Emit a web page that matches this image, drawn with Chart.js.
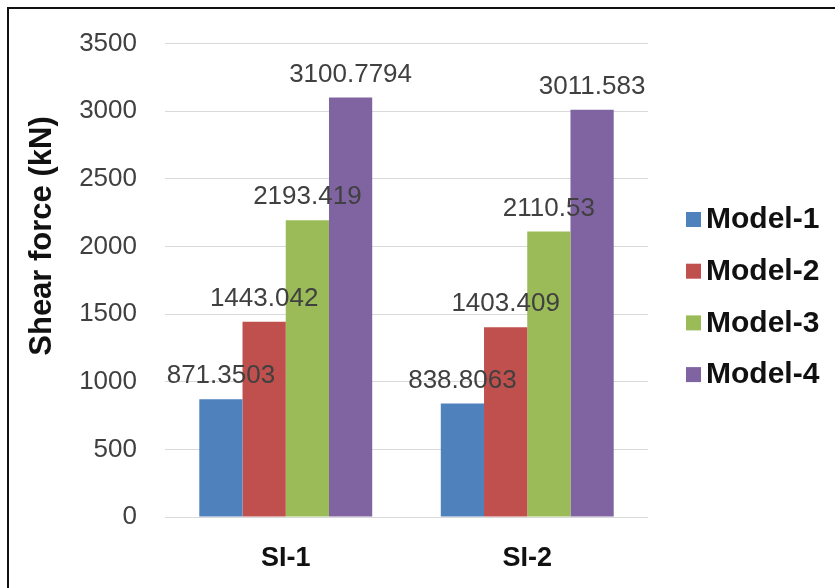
<!DOCTYPE html>
<html>
<head>
<meta charset="utf-8">
<script src="https://cdn.jsdelivr.net/npm/chart.js@4/dist/chart.umd.min.js"></script>
<style>
    html, body { margin: 0; padding: 0; background: #fff; }
    #wrap { position: relative; width: 835px; height: 588px; }
    #frame { position: absolute; left: 7px; top: 7px; right: 0; bottom: 0;
             border-top: 2px solid #111; border-left: 2px solid #111; pointer-events: none; }
    canvas { position: absolute; left: 0; top: 0; }
</style>
</head>
<body>
<div id="wrap">
    <canvas id="grafico" width="835" height="588"></canvas>
    <div id="frame"></div>
</div>
<script>
const categorias = ['SI-1', 'SI-2'];
const modelos = ['Model-1', 'Model-2', 'Model-3', 'Model-4'];
const model1 = [871.3503, 838.8063];
const model2 = [1443.042, 1403.409];
const model3 = [2193.419, 2110.53];
const model4 = [3100.7794, 3011.583];
const colores = ['#4F81BD', '#C0504D', '#9BBB59', '#8064A2'];
const ticksY = [0, 500, 1000, 1500, 2000, 2500, 3000, 3500];
const tituloY = 'Shear force (kN)';

const FONT = '"Liberation Sans", Arial, sans-serif';

// etiquetas de valor encima de cada barra
const etiquetas = {
    id: 'etiquetas',
    afterDatasetsDraw(chart) {
        const ctx = chart.ctx;
        ctx.save();
        ctx.font = '26px ' + FONT;
        ctx.fillStyle = '#404040';
        ctx.textAlign = 'center';
        ctx.textBaseline = 'alphabetic';
        chart.data.datasets.forEach((ds, i) => {
            chart.getDatasetMeta(i).data.forEach((bar, j) => {
                ctx.fillText(String(ds.data[j]), bar.x, bar.y - 16);
            });
        });
        ctx.restore();
    }
};

// leyenda a la derecha y titulo del eje Y
const leyenda = {
    id: 'leyenda',
    afterDraw(chart) {
        const ctx = chart.ctx;
        ctx.save();
        ctx.font = 'bold 30px ' + FONT;
        ctx.textBaseline = 'middle';
        ctx.textAlign = 'left';
        chart.data.datasets.forEach((ds, i) => {
            const y = 220 + i * 51.7;
            ctx.fillStyle = ds.backgroundColor;
            ctx.fillRect(686, y - 8, 15, 15);
            ctx.fillStyle = '#111';
            ctx.fillText(ds.label, 706, y);
        });
        ctx.translate(42, 236);
        ctx.rotate(-Math.PI / 2);
        ctx.textAlign = 'center';
        ctx.font = 'bold 31px ' + FONT;
        ctx.fillText(tituloY, 0, 0);
        ctx.restore();
    }
};

const series = [model1, model2, model3, model4];

new Chart(document.getElementById('grafico').getContext('2d'), {
    type: 'bar',
    data: {
        labels: categorias,
        datasets: modelos.map((m, i) => ({
            label: m,
            data: series[i],
            backgroundColor: colores[i],
            borderWidth: 0,
            categoryPercentage: 0.716,
            barPercentage: 1.0
        }))
    },
    options: {
        responsive: false,
        animation: false,
        layout: { padding: { top: 36, right: 187, bottom: 0, left: 0 } },
        plugins: {
            legend: { display: false },
            tooltip: { enabled: false }
        },
        scales: {
            x: {
                grid: { display: false, drawTicks: false },
                border: { display: false },
                ticks: {
                    color: '#111',
                    padding: 25,
                    font: { family: FONT, size: 27, weight: 'bold' }
                },
                afterFit(scale) { scale.height = 71; }
            },
            y: {
                min: 0,
                max: 3500,
                afterBuildTicks(scale) { scale.ticks = ticksY.map(v => ({ value: v })); },
                grid: { color: '#d9d9d9', lineWidth: 1, drawTicks: false },
                border: { display: false },
                ticks: {
                    color: '#404040',
                    padding: 28,
                    font: { family: FONT, size: 26 },
                    callback: v => String(v)
                },
                afterFit(scale) { scale.width = 165; }
            }
        }
    },
    plugins: [etiquetas, leyenda]
});
</script>
</body>
</html>
